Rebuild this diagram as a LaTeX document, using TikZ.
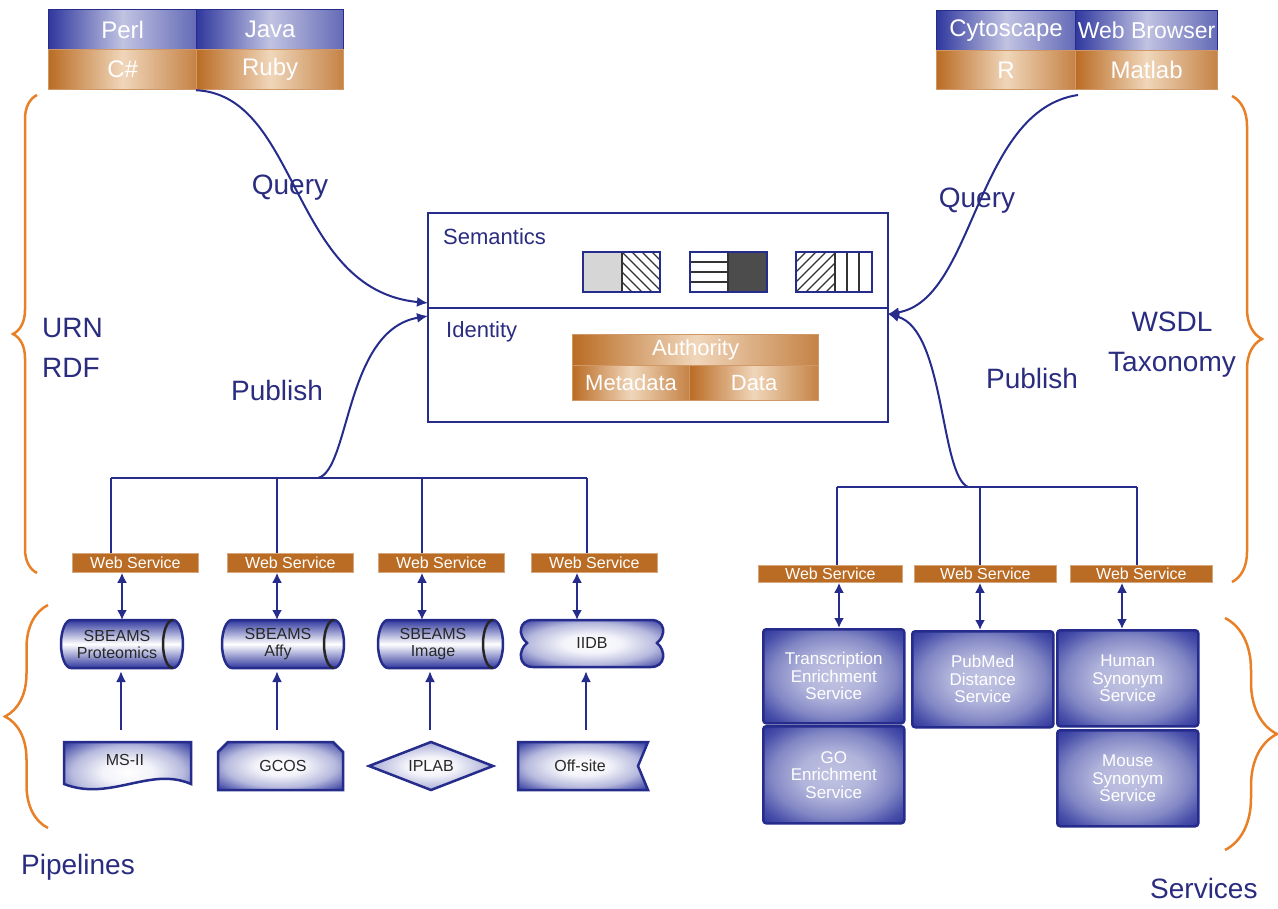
\documentclass[tikz,border=0pt]{standalone}
\usepackage{fontspec}
\setmainfont{Liberation Sans}
\usetikzlibrary{arrows.meta,decorations.pathreplacing}
\definecolor{navy}{RGB}{38,44,140}
\definecolor{bfill}{RGB}{48,56,158}
\definecolor{tnavy}{RGB}{42,44,128}
\definecolor{orng}{RGB}{186,108,36}
\definecolor{olight}{RGB}{240,214,186}
\definecolor{brc}{RGB}{232,128,40}
\definecolor{dtxt}{RGB}{40,40,40}
\pgfdeclareradialshading{rbshade}{\pgfpoint{0bp}{0bp}}{color(0bp)=(bfill!30!white); color(12bp)=(bfill!38!white); color(22bp)=(bfill!60!white); color(30bp)=(bfill!88!white); color(35bp)=(bfill); color(50bp)=(bfill)}
\pgfdeclareradialshading{wshade}{\pgfpoint{0bp}{0bp}}{color(0bp)=(white); color(10bp)=(bfill!6!white); color(22bp)=(bfill!35!white); color(30bp)=(bfill!75!white); color(35bp)=(bfill); color(50bp)=(bfill)}
\newcommand\fsz[2]{\fontsize{#1}{#2}\selectfont}
\newcommand\drawcyl[3]{% x1, x2, y1 (height 48)
  \path[cylsh] (#1+10,#3) -- (#2-10,#3) arc[start angle=90,end angle=-90,x radius=10pt,y radius=24pt]
     -- (#1+10,#3+48) arc[start angle=270,end angle=90,x radius=10pt,y radius=24pt] -- cycle;
  \draw[black!85, line width=2.5pt] (#2-10,#3) arc[start angle=90,end angle=270,x radius=10pt,y radius=24pt];}
\begin{document}
\begin{tikzpicture}[x=1pt,y=-1pt,
  cellb/.style={draw=navy, line width=1.2pt, left color=bfill, right color=bfill!75!white, middle color=bfill!30!white, text=white, inner sep=0pt, anchor=north west, font=\fsz{24}{26}},
  cello/.style={draw=orng!70!white, line width=1.2pt, left color=orng, right color=orng!85!white, middle color=olight, text=white, inner sep=0pt, anchor=north west, font=\fsz{24}{26}},
  wsbox/.style={fill=orng, draw=orng!60!white, line width=0.8pt, text=white, inner sep=0pt, anchor=north west, font=\fsz{16}{17}},
  lbl/.style={text=tnavy, font=\fsz{28}{40}, inner sep=0pt},
  conn/.style={draw=navy, line width=2pt},
  arr/.style={conn, -{Latex[length=11pt,width=10pt]}},
  darr/.style={conn, line width=2.5pt, {Latex[length=10pt,width=10pt]}-{Latex[length=10pt,width=10pt]}},
  shp/.style={draw=navy, line width=2.5pt, shading=wshade},
  cylsh/.style={draw=navy, line width=2.5pt, top color=bfill, bottom color=bfill, middle color=white},
  stxt/.style={text=dtxt, font=\fsz{16}{17}, align=center, inner sep=0pt},
  rbox/.style={draw=navy, line width=2.5pt, rounded corners=3pt, shading=rbshade, text=white, inner sep=0pt, anchor=north west, align=center, font=\fsz{17}{17.5}},
  obrace/.style={draw=brc, line width=2.5pt, decorate, decoration={brace, amplitude=#1pt}},
  patline/.style={black!80, line width=1.2pt}
]
\useasboundingbox (0,0) rectangle (1278,909);
\fill[white] (0,0) rectangle (1278,909);

% ---------- top tables ----------
\node[cellb, minimum width=148pt, minimum height=40pt] (perl) at (48,9) {Perl};
\node[cellb, minimum width=147pt, minimum height=40pt] (java) at (196,9) {Java};
\node[cello, minimum width=148pt, minimum height=40pt] (cs) at (48,49) {C\#};
\node[cello, minimum width=147pt, minimum height=40pt] (ruby) at (196,49) {Ruby};

\node[cellb, minimum width=139pt, minimum height=40pt] (cyto) at (936,10) {Cytoscape};
\node[cellb, minimum width=142pt, minimum height=40pt, font=\fsz{23}{25}] (webb) at (1075,10) {Web Browser};
\node[cello, minimum width=139pt, minimum height=39pt] (rr) at (936,50) {R};
\node[cello, minimum width=142pt, minimum height=39pt] (matlab) at (1075,50) {Matlab};

% ---------- central box ----------
\node[draw=navy, line width=2pt, minimum width=460pt, minimum height=209pt, anchor=north west, inner sep=0pt] (central) at (427,212) {};
\coordinate (divL) at (427,308);
\coordinate (divR) at (887,308);
\draw[conn] (divL) -- (divR);
\node[text=tnavy, font=\fsz{22}{24}, anchor=base west, inner sep=0pt] (sem) at (443,245) {Semantics};
\node[text=tnavy, font=\fsz{22}{24}, anchor=base west, inner sep=0pt] (ident) at (446,338) {Identity};

% pattern box 1
\fill[black!16] (583,252) rectangle (622,292);
\begin{scope}
  \clip (622,252) rectangle (660,292);
  \foreach \i in {-50,-40,...,40} \draw[patline] (622+\i,252) -- ++(45,45);
\end{scope}
\draw[patline] (622,252) -- (622,292);
\draw[navy, line width=2.5pt] (583,252) rectangle (660,292);
% pattern box 2
\foreach \yy in {262,272,282} \draw[patline] (690,\yy) -- (728,\yy);
\fill[black!70] (728,252) rectangle (767,292);
\draw[patline] (728,252) -- (728,292);
\draw[navy, line width=2.5pt] (690,252) rectangle (767,292);
% pattern box 3
\begin{scope}
  \clip (796,252) rectangle (835,292);
  \foreach \i in {-50,-40,...,40} \draw[patline] (796+\i,292) -- ++(45,-45);
\end{scope}
\foreach \xx in {835,847,859} \draw[patline] (\xx,252) -- (\xx,292);
\draw[navy, line width=2.5pt] (796,252) rectangle (872,292);

% authority table
\node[cello, font=\fsz{22}{24}, minimum width=246pt, minimum height=31pt] (auth) at (572,334) {Authority};
\node[cello, font=\fsz{22}{24}, minimum width=117pt, minimum height=35pt] (meta) at (572,365) {Metadata};
\node[cello, font=\fsz{22}{24}, minimum width=129pt, minimum height=35pt] (data) at (689,365) {Data};

% ---------- side labels ----------
\node[lbl, anchor=west, align=left] (urn) at (42,348) {URN\\RDF};
\node[lbl, anchor=center, align=center] (wsdl) at (1172,345) {WSDL\\Taxonomy};
\node[lbl, anchor=west] (pipe) at (21,867) {Pipelines};
\node[lbl, anchor=west] (serv) at (1150,888) {Services};
\node[lbl] (qlab) at (290,188) {Query};
\node[lbl] (qrab) at (977,201) {Query};
\node[lbl] (plab) at (277,390) {Publish};
\node[lbl] (prab) at (1032,378) {Publish};

% ---------- braces ----------
\draw[obrace=24] (37,573) -- (37,95);
\draw[obrace=43] (48,828) -- (48,605);
\draw[obrace=30] (1232,96) -- (1232,582);
\draw[obrace=52] (1225,618) -- (1225,850);

% ---------- left web services ----------
\node[wsbox, minimum width=126pt, minimum height=19pt] (ws1) at (72,553) {Web Service};
\node[wsbox, minimum width=126pt, minimum height=19pt] (ws2) at (227,553) {Web Service};
\node[wsbox, minimum width=126pt, minimum height=19pt] (ws3) at (378,553) {Web Service};
\node[wsbox, minimum width=126pt, minimum height=19pt] (ws4) at (531,553) {Web Service};

\coordinate (b1) at (111,478);
\coordinate (b2) at (277,478);
\coordinate (b3) at (422,478);
\coordinate (b4) at (587,478);
\coordinate (pubL) at (318,478);
\draw[conn] (b1) -- (b4);
\draw[conn] (b1) -- (b1 |- ws1.north);
\draw[conn] (b2) -- (b2 |- ws2.north);
\draw[conn] (b3) -- (b3 |- ws3.north);
\draw[conn] (b4) -- (b4 |- ws4.north);

% cylinders
\drawcyl{61}{183}{620}
\drawcyl{222}{344}{620}
\drawcyl{378}{503}{620}
\node[stxt] (cyl1) at (117,644) {SBEAMS\\Proteomics};
\node[stxt] (cyl2) at (278,644) {SBEAMS\\Affy};
\node[stxt] (cyl3) at (433,644) {SBEAMS\\Image};
% IIDB
\path[shp] (533,620) -- (651,620) .. controls (666,620) and (666,636) .. (657,643)
   .. controls (666,650) and (666,667) .. (651,667) -- (533,667)
   .. controls (518,667) and (518,650) .. (527,643)
   .. controls (518,636) and (518,620) .. (533,620) -- cycle;
\node[stxt] (iidb) at (592,643) {IIDB};

\coordinate (da1) at (122,620);
\coordinate (da2) at (277,620);
\coordinate (da3) at (422,620);
\coordinate (da4) at (577,620);
\draw[darr] (da1 |- ws1.south) -- (da1);
\draw[darr] (da2 |- ws2.south) -- (da2);
\draw[darr] (da3 |- ws3.south) -- (da3);
\draw[darr] (da4 |- ws4.south) -- (da4);

% bottom shapes
\path[shp] (64,742) -- (191,742) -- (191,784) .. controls (150,766) and (110,802) .. (64,784) -- cycle;
\node[stxt] (msii) at (125,760) {MS-II};
\path[shp] (218,790) -- (218,752) -- (228,742) -- (333,742) -- (343,752) -- (343,790) -- cycle;
\node[stxt] (gcos) at (283,766) {GCOS};
\path[shp] (369,766) -- (431,742) -- (493,766) -- (431,790) -- cycle;
\node[stxt] (iplab) at (431,766) {IPLAB};
\path[shp] (518,742) -- (648,742) -- (638,766) -- (648,790) -- (518,790) -- cycle;
\node[stxt] (offsite) at (580,766) {Off-site};

\coordinate (ua1) at (121,730);
\coordinate (ua2) at (277,730);
\coordinate (ua3) at (430,730);
\coordinate (ua4) at (586,730);
\draw[arr, line width=2.5pt] (ua1) -- (ua1 |- 0,671);
\draw[arr, line width=2.5pt] (ua2) -- (ua2 |- 0,671);
\draw[arr, line width=2.5pt] (ua3) -- (ua3 |- 0,671);
\draw[arr, line width=2.5pt] (ua4) -- (ua4 |- 0,671);

% ---------- right web services ----------
\node[wsbox, minimum width=144pt, minimum height=17pt] (rws1) at (758,565) {Web Service};
\node[wsbox, minimum width=142pt, minimum height=17pt] (rws2) at (914,565) {Web Service};
\node[wsbox, minimum width=142pt, minimum height=17pt] (rws3) at (1070,565) {Web Service};

\coordinate (rb1) at (837,487);
\coordinate (rb2) at (980,487);
\coordinate (rb3) at (1137,487);
\coordinate (pubR) at (968,487);
\draw[conn] (rb1) -- (rb3);
\draw[conn] (rb1) -- (rb1 |- rws1.north);
\draw[conn] (rb2) -- (rb2 |- rws2.north);
\draw[conn] (rb3) -- (rb3 |- rws3.north);

\node[rbox, minimum width=141pt, minimum height=94pt] (trans) at (762,628) {Transcription\\Enrichment\\Service};
\node[rbox, minimum width=141pt, minimum height=97pt] (goe) at (762,725) {GO\\Enrichment\\Service};
\node[rbox, minimum width=141pt, minimum height=96pt] (pubmed) at (911,630) {PubMed\\Distance\\Service};
\node[rbox, minimum width=141pt, minimum height=96pt] (human) at (1056,629) {Human\\Synonym\\Service};
\node[rbox, minimum width=141pt, minimum height=96pt] (mouse) at (1056,729) {Mouse\\Synonym\\Service};

\coordinate (rd1) at (839,0);
\coordinate (rd2) at (980,0);
\coordinate (rd3) at (1122,0);
\draw[darr] (rd1 |- rws1.south) -- (rd1 |- trans.north);
\draw[darr] (rd2 |- rws2.south) -- (rd2 |- pubmed.north);
\draw[darr] (rd3 |- rws3.south) -- (rd3 |- human.north);

% ---------- query / publish curves ----------
\coordinate (qL) at (428,303);
\coordinate (pL) at (428,316);
\coordinate (qR) at (888,314);
\coordinate (qRs) at (1078,95);
\draw[arr] (ruby.south west) .. controls (300,95) and (290,290) .. (qL);
\draw[arr] (qRs) .. controls (975,110) and (975,300) .. (qR);
\draw[arr] (pubL) .. controls (350,470) and (345,330) .. (pL);
\draw[arr] (pubR) .. controls (940,475) and (945,330) .. (qR);
\end{tikzpicture}
\end{document}
